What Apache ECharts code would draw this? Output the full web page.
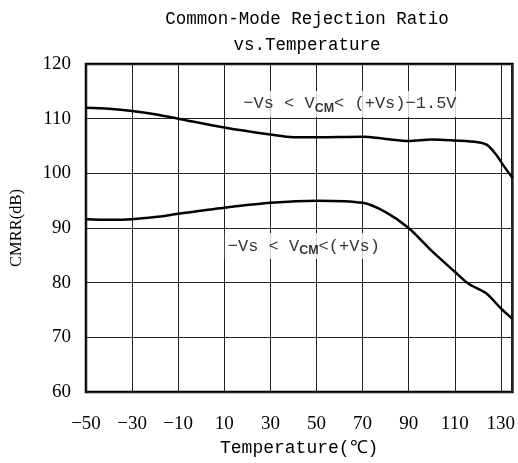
<!DOCTYPE html>
<html><head><meta charset="utf-8">
<script src="https://cdn.jsdelivr.net/npm/echarts@6/dist/echarts.min.js"></script>
<style>html,body{margin:0;padding:0;background:#fff}#c{width:518px;height:463px}</style>
</head><body><div id="c"></div>
<script>
var titleLines = ['Common-Mode Rejection Ratio', 'vs.Temperature'];
var xName = 'Temperature(℃)';
var yName = 'CMRR(dB)';
var xMin = -50, xMax = 135, xStep = 20;
var yMin = 60, yMax = 120, yStep = 10;

var upperT = [-50, -40, -30, -20, -10, 10, 30, 40, 50, 70, 80, 90, 100, 110, 120, 124, 128, 131, 135];
var upperV = [112.0, 111.8, 111.4, 110.8, 110.0, 108.4, 107.1, 106.6, 106.6, 106.7, 106.3, 105.9, 106.2, 106.0, 105.7, 105.2, 103.4, 101.5, 99.2];
var lowerT = [-50, -40, -30, -20, -10, 10, 30, 50, 70, 80, 90, 100, 110, 116, 123.5, 130, 135];
var lowerV = [91.6, 91.5, 91.6, 92.0, 92.6, 93.7, 94.6, 95.0, 94.6, 92.9, 90.0, 85.8, 82.0, 79.8, 78.1, 75.3, 73.4];

var noteUpper = {x: 64.5, y: 112.7, pre: '−Vs < V', sub: 'CM', post: '< (+Vs)−1.5V'};
var noteLower = {x: 44.5, y: 86.7, pre: '−Vs < V', sub: 'CM', post: '<(+Vs)'};

function zip(a, b) { return a.map(function (v, i) { return [v, b[i]]; }); }

var monoFont = '"Liberation Mono", monospace';
var serifFont = '"Liberation Serif", serif';

function noteSeries(n) {
  return {
    type: 'scatter', symbolSize: 0, silent: true, z: 5,
    data: [[n.x, n.y]],
    label: {
      show: true, position: 'inside',
      formatter: '{a|' + n.pre + '}{b|' + n.sub + '}{a|' + n.post + '}',
      backgroundColor: '#fff', padding: [2, 3],
      rich: {
        a: {fontFamily: monoFont, fontSize: 17, color: '#000', lineHeight: 22, verticalAlign: 'middle'},
        b: {fontFamily: '"Liberation Sans", sans-serif', fontSize: 12.5, fontWeight: 'bold', color: '#000', lineHeight: 22, verticalAlign: 'bottom', padding: [8, 0, 0, 0]}
      }
    }
  };
}

var chart = echarts.init(document.getElementById('c'));
chart.setOption({
  animation: false,
  backgroundColor: '#fff',
  title: {
    text: titleLines.join('\n'),
    left: 302, top: 1, textAlign: 'center',
    textStyle: {fontFamily: monoFont, fontSize: 17.5, fontWeight: 'normal', color: '#000', lineHeight: 26}
  },
  grid: {left: 82, right: 5, top: 64, bottom: 71, show: true, borderColor: '#000', borderWidth: 2.5, backgroundColor: 'transparent'},
  xAxis: {
    type: 'value', min: xMin, max: xMax, interval: xStep,
    name: xName, nameLocation: 'middle', nameGap: 46,
    nameTextStyle: {fontFamily: monoFont, fontSize: 18, color: '#000'},
    axisLine: {show: false}, axisTick: {show: false},
    axisLabel: {
      fontFamily: serifFont, fontSize: 19, color: '#000', margin: 23,
      formatter: function (v) { return v === xMax ? '' : String(v).replace('-', '−'); }
    },
    splitLine: {show: true, lineStyle: {color: '#222', width: 1}}
  },
  yAxis: {
    type: 'value', min: yMin, max: yMax, interval: yStep,
    name: yName, nameLocation: 'middle', nameGap: 61,
    nameTextStyle: {fontFamily: serifFont, fontSize: 16.5, color: '#000'},
    axisLine: {show: false}, axisTick: {show: false},
    axisLabel: {fontFamily: serifFont, fontSize: 19, color: '#000', margin: 15},
    splitLine: {show: true, lineStyle: {color: '#222', width: 1}}
  },
  series: [
    {type: 'line', data: zip(upperT, upperV), smooth: 0.3, symbol: 'none', lineStyle: {color: '#000', width: 2.5}, z: 3},
    {type: 'line', data: zip(lowerT, lowerV), smooth: 0.3, symbol: 'none', lineStyle: {color: '#000', width: 2.5}, z: 3},
    noteSeries(noteUpper),
    noteSeries(noteLower)
  ]
});
</script></body></html>
